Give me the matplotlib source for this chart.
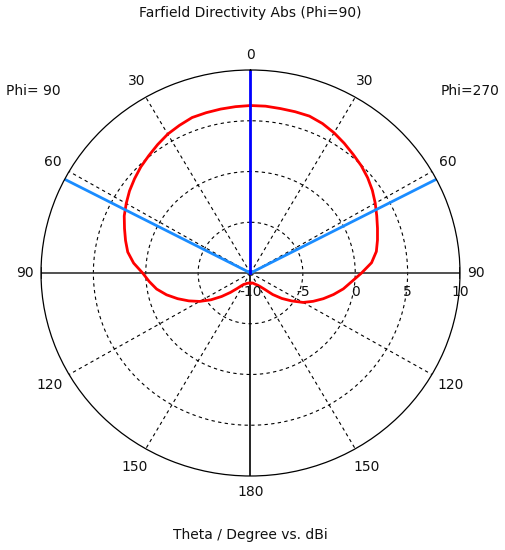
import numpy as np
import matplotlib.pyplot as plt

# farfield cut, theta in degrees, directivity in dBi
theta = [0, 5, 10, 15, 20, 25, 30, 35, 40, 45, 50, 55, 60, 65, 70, 75, 80, 85, 90,
         95, 100, 105, 110, 115, 120, 125, 130, 135, 140, 145, 150, 155, 160, 165, 170, 175, 180]
d_phi90 = [6.5, 6.45, 6.4, 6.35, 6.3, 6.05, 5.8, 5.45, 5.1, 4.8, 4.45, 4.1, 3.7, 3.3, 2.8, 2.35, 1.9, 1.2, 0.3,
           -0.3, -0.9, -1.7, -2.6, -3.5, -4.4, -5.4, -6.4, -7.3, -8.0, -8.45, -8.7, -8.8, -8.9, -8.95, -9.0, -9.0, -9.0]
d_phi270 = [6.5, 6.5, 6.45, 6.45, 6.45, 6.25, 5.95, 5.6, 5.25, 4.95, 4.6, 4.2, 3.75, 3.3, 2.9, 2.55, 2.2, 1.6, 0.6,
            -0.3, -1.0, -1.8, -2.6, -3.4, -4.2, -5.2, -6.1, -7.0, -7.9, -8.35, -8.6, -8.75, -8.85, -8.95, -9.0, -9.0, -9.0]

beam_dir = 0.0        # main lobe direction
beam_edges = [62.5, -62.5]   # 3 dB beamwidth lines

ang_ticks = [0, 30, 60, 90, 120, 150, 180, -150, -120, -90, -60, -30]
ang_labels = ['0', '30', '60', '90', '120', '150', '180', '150', '120', '90', '60', '30']
ang_lab_r = [11.5, 11.8, 11.8, 11.5, 12.1, 12.1, 11.6, 12.1, 12.1, 11.5, 11.8, 11.8]
r_ticks = [-10, -5, 0, 5, 10]
r_labels = ['-10', '-5', '0', '5', '10']

plt.rcParams['font.family'] = 'DejaVu Sans'
fig = plt.figure(figsize=(5.05, 5.5), dpi=100)
ax = fig.add_axes([41/505, 74/550, 419/505, 406/550], projection='polar')
ax.set_aspect('auto')
ax.set_theta_zero_location('N')
ax.set_ylim(-10, 10)
ax.grid(False)
ax.set_xticks([])
ax.set_yticks([])
ax.spines['polar'].set_linewidth(0.9)

full = np.linspace(0, 2*np.pi, 361)
# dashed rings
for r in r_ticks[1:-1]:
    ax.plot(full, np.full_like(full, r), color='black', lw=0.8, dashes=(3, 3))
# dashed spokes
for a in ang_ticks:
    if a % 90 != 0:
        ax.plot([np.radians(a)]*2, [-10, 10], color='black', lw=0.8, dashes=(3, 3))
# solid axes
ax.plot([np.radians(90)]*2, [-10, 10], color='#333333', lw=1.2)
ax.plot([np.radians(-90)]*2, [-10, 10], color='#333333', lw=1.2)
ax.plot([np.pi]*2, [-10, 10], color='black', lw=1.2)
ax.plot([np.radians(90), np.radians(-90)], [10, 10], 'k', marker='|', ms=8, lw=0, mew=1.2)

# pattern
th = np.radians(theta)
ax.plot(th, d_phi90, color='#ff0000', lw=2)
ax.plot(-th, d_phi270, color='#ff0000', lw=2)

# beam lines
for b in beam_edges:
    ax.plot([np.radians(b)]*2, [-10, 10], color='#1a8cff', lw=2)
ax.plot([np.radians(beam_dir)]*2, [-10, 10], color='#0000ff', lw=2)

for a, lab, r in zip(ang_ticks, ang_labels, ang_lab_r):
    ax.text(np.radians(a), r, lab, ha='center', va='center', fontsize=10, color='#111111')
for r, lab in zip(r_ticks, r_labels):
    ax.annotate(lab, xy=(np.radians(-90), r), xytext=(0, -14), textcoords='offset points',
                ha='center', va='center', fontsize=10, color='#111111')

fig.text(0.496, 1 - 13/550, 'Farfield Directivity Abs (Phi=90)', ha='center', va='center', fontsize=10, color='#111111')
fig.text(33/505, 1 - 91/550, 'Phi= 90', ha='center', va='center', fontsize=10, color='#111111')
fig.text(470/505, 1 - 91/550, 'Phi=270', ha='center', va='center', fontsize=10, color='#111111')
fig.text(0.496, 1 - 535/550, 'Theta / Degree vs. dBi', ha='center', va='center', fontsize=10, color='#111111')

fig.savefig('out.png', dpi=100, facecolor='white')
